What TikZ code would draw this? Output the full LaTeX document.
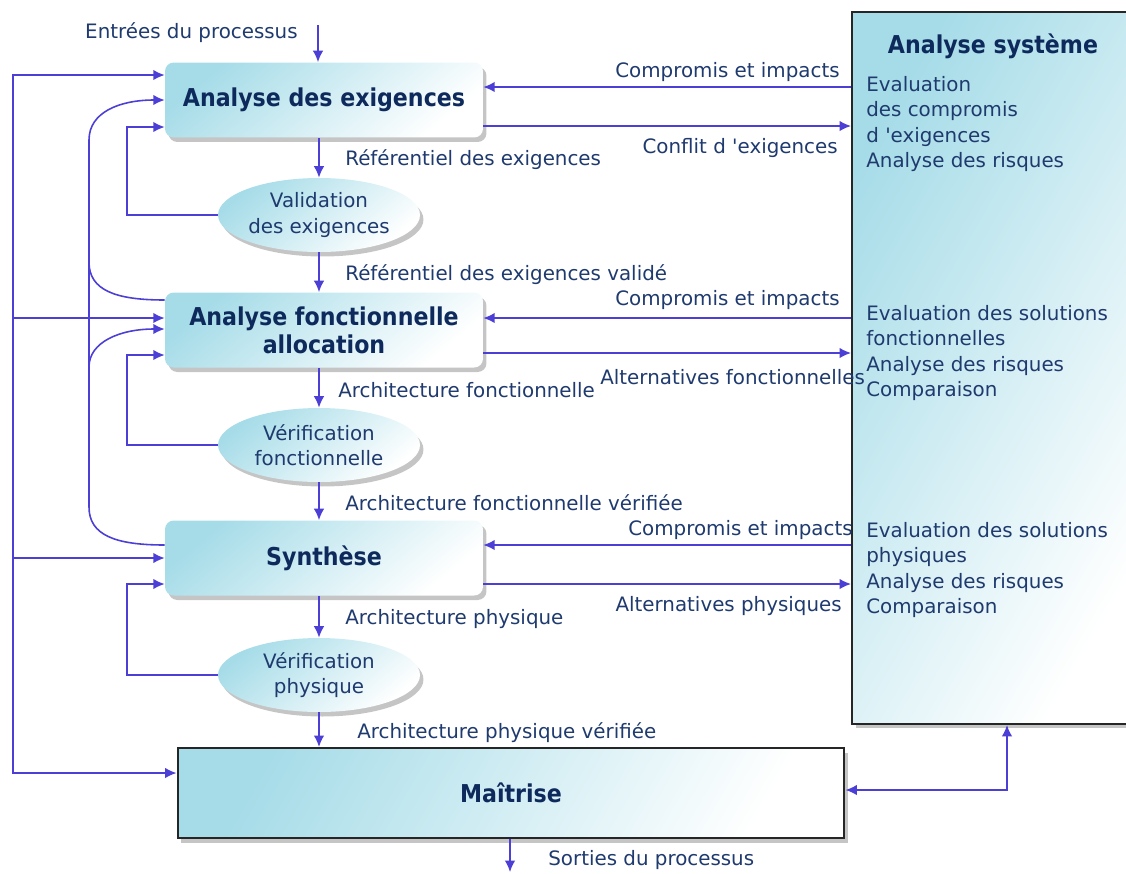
\documentclass[tikz,border=0pt]{standalone}
\usepackage{fontspec}
\setmainfont{DejaVu Sans}
\newfontfamily\titlefont{DejaVu Sans Condensed}
\usetikzlibrary{arrows.meta,shapes.geometric,shadows}

\begin{document}
\begin{tikzpicture}[x=0.02cm,y=-0.02cm,>={Latex[length=6.5pt,width=6pt]},
    lbl/.style={font=\fontsize{11.3}{14.5}\selectfont,text=textnavy,inner sep=0pt},
    titre/.style={font=\titlefont\bfseries\fontsize{14}{16}\selectfont,text=titlenavy},
    ombre/.style={drop shadow={shadow xshift=.07cm,shadow yshift=-.09cm,fill=gray!90}},
    procbox/.style={rounded corners=5pt,minimum width=6.36cm,minimum height=1.5cm,
        top color=boxcyan,bottom color=white,shading angle=40,ombre,titre,align=center},
    verif/.style={ellipse,minimum width=4.04cm,minimum height=1.48cm,
        top color=boxcyan,bottom color=white,shading angle=40,ombre,lbl,align=center},
    bigbox/.style={draw=black!85,line width=1.2pt,top color=boxcyan,bottom color=white,
        shading angle=60,ombre},
    flow/.style={->,draw=flowblue,line width=0.9pt}]

    \definecolor{boxcyan}{HTML}{A6DCE8}
    \definecolor{textnavy}{HTML}{1F3A6E}
    \definecolor{titlenavy}{HTML}{0E2A5C}
    \definecolor{flowblue}{HTML}{4B3FD6}

    \useasboundingbox (0,0) rectangle (1126,873);

    % boites du processus
    \node[procbox] (ae) at (324,100) {Analyse des exigences};
    \node[verif] (valid) at (319,215) {Validation\\des exigences};
    \node[procbox] (afa) at (324,330) {Analyse fonctionnelle\\allocation};
    \node[verif] (verf) at (319,445) {Vérification\\fonctionnelle};
    \node[procbox] (synth) at (324,558) {Synthèse};
    \node[verif] (verp) at (319,675) {Vérification\\physique};
    \node[bigbox,titre,minimum width=13.34cm,minimum height=1.8cm] (maitrise) at (511,793) {Maîtrise};
    \node[bigbox,minimum width=5.76cm,minimum height=14.24cm] (asys) at (996,368) {};

    % analyse systeme
    \node[titre] (asystitre) at (993,46) {Analyse système};
    \node[lbl,anchor=north west,align=left] (evalexig) at (866,76)
        {Evaluation\\des compromis\\d \textquotesingle exigences\\Analyse des risques};
    \node[lbl,anchor=north west,align=left] (evalfonc) at (866,305)
        {Evaluation des solutions\\fonctionnelles\\Analyse des risques\\Comparaison};
    \node[lbl,anchor=north west,align=left] (evalphys) at (866,522)
        {Evaluation des solutions\\physiques\\Analyse des risques\\Comparaison};

    % entree et sortie
    \coordinate (entree) at (318,25);
    \coordinate (sortie) at (510,872);
    \draw[flow] (entree) -- (entree |- ae.north);
    \draw[flow] (maitrise.south -| sortie) -- (sortie);
    \node[lbl,anchor=east] (lentree) at (298,33) {Entrées du processus};
    \node[lbl,anchor=west] (lsortie) at (548,860) {Sorties du processus};

    % flux vertical
    \draw[flow] (ae.south -| valid.north) -- (valid.north);
    \draw[flow] (valid.south) -- (valid.south |- afa.north);
    \draw[flow] (afa.south -| verf.north) -- (verf.north);
    \draw[flow] (verf.south) -- (verf.south |- synth.north);
    \draw[flow] (synth.south -| verp.north) -- (verp.north);
    \draw[flow] (verp.south) -- (verp.south |- maitrise.north);
    \node[lbl,anchor=west] (lref) at (345,160) {Référentiel des exigences};
    \node[lbl,anchor=west] (lrefval) at (345,275) {Référentiel des exigences validé};
    \node[lbl,anchor=west] (larchf) at (338,390) {Architecture fonctionnelle};
    \node[lbl,anchor=west] (larchfv) at (345,503) {Architecture fonctionnelle vérifiée};
    \node[lbl,anchor=west] (larchp) at (345,619) {Architecture physique};
    \node[lbl,anchor=west] (larchpv) at (357,733) {Architecture physique vérifiée};

    % echanges avec l'analyse systeme
    \draw[flow] (asys.west |- 0,87) -- (ae.east |- 0,87);
    \draw[flow] (ae.east |- 0,126) -- (asys.west |- 0,126);
    \draw[flow] (asys.west |- 0,318) -- (afa.east |- 0,318);
    \draw[flow] (afa.east |- 0,353) -- (asys.west |- 0,353);
    \draw[flow] (asys.west |- 0,545) -- (synth.east |- 0,545);
    \draw[flow] (synth.east |- 0,584) -- (asys.west |- 0,584);
    \draw[flow,<->] (maitrise.east |- 0,790) -| (asys.south -| 1007,0);
    \node[lbl,anchor=east] (lcomp1) at (840,72) {Compromis et impacts};
    \node[lbl,anchor=east] (lconf) at (838,148) {Conflit d \textquotesingle exigences};
    \node[lbl,anchor=east] (lcomp2) at (840,300) {Compromis et impacts};
    \node[lbl,anchor=west] (laltf) at (600,377) {Alternatives fonctionnelles};
    \node[lbl,anchor=east] (lcomp3) at (853,530) {Compromis et impacts};
    \node[lbl,anchor=east] (laltp) at (842,606) {Alternatives physiques};

    % retours a gauche
    \coordinate (rail) at (13,318);
    \coordinate (jonction) at (89,262);
    \coordinate (retour) at (89,367);
    \draw[flow] (rail) |- (ae.west |- 0,75);
    \draw[flow] (rail) -- (afa.west |- rail);
    \draw[flow] (rail) |- (synth.west);
    \draw[flow] (rail) |- (maitrise.west |- 0,773);
    \draw[flow] (synth.west |- 0,545) .. controls (115,545) and (89,535) .. (89,507)
        -- (89,140) .. controls (89,112) and (120,100) .. (ae.west);
    \draw[flow,-] (afa.west |- 0,300) .. controls (115,300) and (89,290) .. (jonction);
    \draw[flow] (retour) .. controls (89,342) and (120,329) .. (afa.west |- 0,329);
    \draw[flow] (valid.west) -| (127,127) -- (ae.west |- 0,127);
    \draw[flow] (verf.west) -| (127,355) -- (afa.west |- 0,355);
    \draw[flow] (verp.west) -| (127,584) -- (synth.west |- 0,584);

\end{tikzpicture}
\end{document}
